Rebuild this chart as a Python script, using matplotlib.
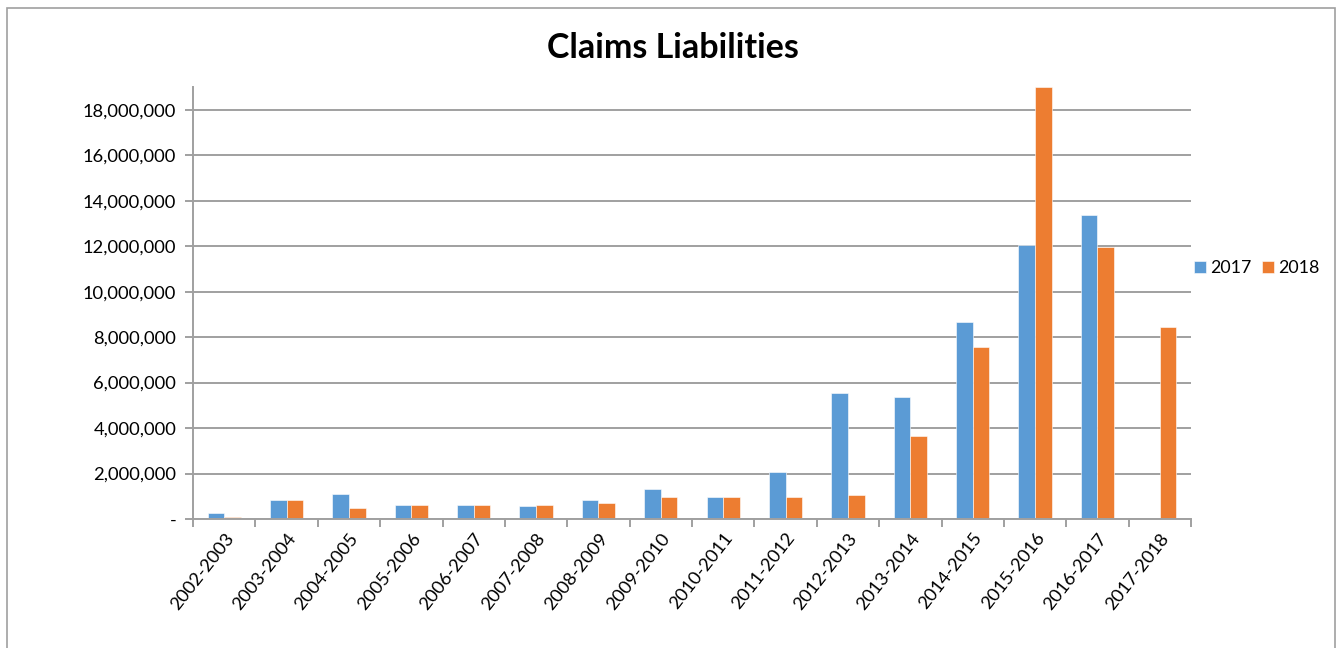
import numpy as np
import matplotlib
matplotlib.use("Agg")
import matplotlib.pyplot as plt
from matplotlib.patches import Rectangle
from matplotlib.ticker import FuncFormatter, FixedLocator

plt.rcParams['font.family'] = ['Lato', 'DejaVu Sans']

years = ["2002-2003", "2003-2004", "2004-2005", "2005-2006", "2006-2007",
         "2007-2008", "2008-2009", "2009-2010", "2010-2011", "2011-2012",
         "2012-2013", "2013-2014", "2014-2015", "2015-2016", "2016-2017",
         "2017-2018"]
v2017 = [280000, 840000, 1100000, 620000, 620000, 560000, 840000, 1320000,
         970000, 2050000, 5560000, 5360000, 8660000, 12050000, 13380000, 0]
v2018 = [100000, 840000, 500000, 620000, 620000, 620000, 700000, 970000,
         970000, 970000, 1040000, 3670000, 7580000, 19000000, 11950000, 8450000]

blue = "#5B9BD5"
orange = "#ED7D31"
grey = "#a0a0a0"

W, H = 1340, 648
fig = plt.figure(figsize=(W/100, H/100), dpi=100)
ax = fig.add_axes([193/W, 1-519/H, (1191-193)/W, (519-87)/H])

x = np.arange(len(years))
bw = 0.267
ax.bar(x - bw/2, v2017, bw, color=blue, label="2017", edgecolor="white", linewidth=0.4)
ax.bar(x + bw/2, v2018, bw, color=orange, label="2018", edgecolor="white", linewidth=0.4)

ax.set_xlim(-0.5, len(years) - 0.5)
ax.set_ylim(0, 19000000)
ax.set_yticks(np.arange(0, 18000001, 2000000))
ax.yaxis.set_major_formatter(FuncFormatter(lambda v, p: "-" if v == 0 else f"{int(v):,}"))
ax.grid(axis="y", color=grey, linewidth=1.4)
ax.set_axisbelow(True)

ax.set_xticks(x)
ax.set_xticklabels(years, rotation=52, ha="right", rotation_mode="anchor", fontsize=13.2)
ax.tick_params(axis="x", which="major", length=0, pad=8)
ax.xaxis.set_minor_locator(FixedLocator(np.arange(-0.5, len(years), 1)))
ax.tick_params(axis="x", which="minor", length=6, width=1.4, color=grey, direction="out")
ax.tick_params(axis="y", length=6, width=1.4, color=grey, labelsize=13.2, pad=6)

for s in ["top", "right"]:
    ax.spines[s].set_visible(False)
for s in ["left", "bottom"]:
    ax.spines[s].set_color(grey)
    ax.spines[s].set_linewidth(1.4)

fig.text(673/W, 1-48/H, "Claims Liabilities", ha="center", va="center",
         fontsize=24.5, fontweight="bold")

fig.legend(loc="center left", bbox_to_anchor=(1194/W, 1-268/H), frameon=False,
           fontsize=12.8, ncol=2, handlelength=0.65, handleheight=0.65,
           handletextpad=0.25, columnspacing=0.6, borderaxespad=0, borderpad=0)

fig.patches.append(Rectangle((7/W, -0.1), (1335-7)/W, 1.1-8/H, transform=fig.transFigure,
                             fill=False, edgecolor=grey, linewidth=1.2))

fig.savefig("out.png", dpi=100)
